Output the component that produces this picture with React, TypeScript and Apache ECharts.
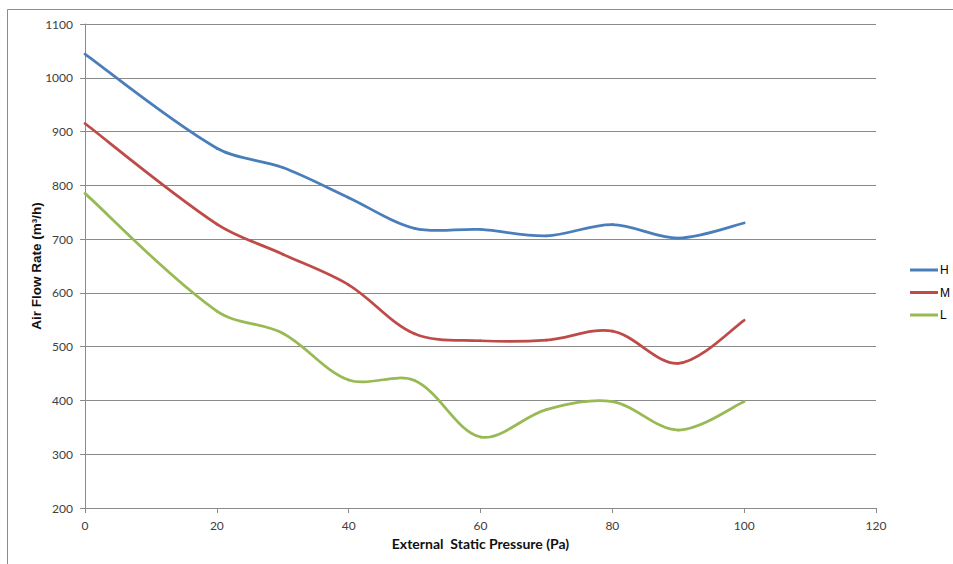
import React, { useEffect, useRef } from "react";
import * as echarts from "echarts";

const pressure = [0, 20, 30, 40, 50, 60, 70, 80, 90, 100];
const flowH = [1044, 869, 833, 777, 720, 718, 706, 727, 702, 730];
const flowM = [915, 728, 672, 615, 524, 511, 512, 529, 469, 549];
const flowL = [785, 566, 525, 438, 437, 332, 383, 398, 345, 398];
const seriesNames = ["H", "M", "L"];
const seriesColors = ["#4a7ebb", "#be4b48", "#98b954"];

const pairs = (ys: number[]) => pressure.map((x, i) => [x, ys[i]]);

// Excel-like cardinal smoothing, segment by segment, in pixel space,
// with tangent lengths weighted by neighbouring segment lengths
const makeRenderItem = (ys: number[], color: string) => (params: any, api: any) => {
  const i = params.dataIndex;
  const n = pressure.length;
  if (i >= n - 1) return null;
  const pt = (k: number) => {
    const kk = Math.max(0, Math.min(n - 1, k));
    return api.coord([pressure[kk], ys[kk]]);
  };
  const dist = (a: number[], b: number[]) => Math.hypot(a[0] - b[0], a[1] - b[1]);
  const s = 1 / 3;
  const p0 = pt(i - 1);
  const p1 = pt(i);
  const p2 = pt(i + 1);
  const p3 = pt(i + 2);
  const d01 = dist(p0, p1);
  const d12 = dist(p1, p2);
  const d23 = dist(p2, p3);
  const r1 = d01 + d12 > 0 ? d12 / (d01 + d12) : 0;
  const r2 = d12 + d23 > 0 ? d12 / (d12 + d23) : 0;
  const f1 = i === 0 ? s * 0.5 : s * r1;
  const f2 = i + 1 === n - 1 ? s * 0.5 : s * r2;
  return {
    type: "bezierCurve",
    shape: {
      x1: p1[0],
      y1: p1[1],
      cpx1: p1[0] + (p2[0] - p0[0]) * f1,
      cpy1: p1[1] + (p2[1] - p0[1]) * f1,
      cpx2: p2[0] - (p3[0] - p1[0]) * f2,
      cpy2: p2[1] - (p3[1] - p1[1]) * f2,
      x2: p2[0],
      y2: p2[1],
    },
    style: { stroke: color, fill: null, lineWidth: 2.75, lineCap: "round" },
    silent: true,
  };
};

export default function App() {
  const ref = useRef<HTMLDivElement>(null);
  useEffect(() => {
    if (!ref.current) return;
    const chart = echarts.init(ref.current, undefined, { renderer: "svg" });
    const gray = "#8a8a8a";
    const tickFont = { fontFamily: "Lato", fontSize: 12, color: "#404040" };
    chart.setOption({
      animation: false,
      backgroundColor: "#fff",
      graphic: [
        {
          type: "rect",
          shape: { x: 7.5, y: 9.5, width: 1000, height: 1000 },
          style: { fill: "none", stroke: "#8c8c8c", lineWidth: 1 },
          z: -1,
          silent: true,
        },
      ],
      grid: { left: 85, right: 77, top: 24, bottom: 56, containLabel: false },
      legend: {
        orient: "vertical",
        left: 905,
        top: 259,
        itemWidth: 28,
        itemHeight: 3,
        itemGap: 10.5,
        icon: "rect",
        textStyle: { fontFamily: "Liberation Sans", fontSize: 12, color: "#000", padding: [0, 0, 0, -3] },
        data: seriesNames,
      },
      xAxis: {
        type: "value",
        min: 0,
        max: 120,
        interval: 20,
        name: "External  Static Pressure (Pa)",
        nameLocation: "middle",
        nameGap: 28.5,
        nameMoveOverlap: false,
        nameTextStyle: { fontFamily: "Lato", fontSize: 14, fontWeight: "bold", color: "#111" },
        axisLine: { show: true, lineStyle: { color: gray, width: 1 } },
        axisTick: { show: true, length: 5, lineStyle: { color: gray } },
        axisLabel: { ...tickFont, margin: 11 },
        splitLine: { show: false },
      },
      yAxis: {
        type: "value",
        min: 200,
        max: 1100,
        interval: 100,
        name: "Air Flow Rate (m³/h)",
        nameLocation: "middle",
        nameRotate: 90,
        nameGap: 42,
        nameMoveOverlap: false,
        nameTextStyle: { fontFamily: "Liberation Sans", fontSize: 13.5, fontWeight: "bold", color: "#111" },
        axisLine: { show: true, lineStyle: { color: gray, width: 1 } },
        axisTick: { show: true, length: 5, lineStyle: { color: gray } },
        axisLabel: { ...tickFont, margin: 12, formatter: (v: number) => String(v) },
        splitLine: { show: true, lineStyle: { color: gray, width: 1 } },
      },
      series: [flowH, flowM, flowL].map((ys, i) => ({
        name: seriesNames[i],
        type: "custom",
        data: pairs(ys),
        encode: { x: 0, y: 1 },
        renderItem: makeRenderItem(ys, seriesColors[i]),
        itemStyle: { color: seriesColors[i] },
        clip: false,
      })),
    });
    return () => chart.dispose();
  }, []);
  return (
    <div
      ref={ref}
      style={{ position: "absolute", left: 0, top: 0, width: 953, height: 564 }}
    />
  );
}
